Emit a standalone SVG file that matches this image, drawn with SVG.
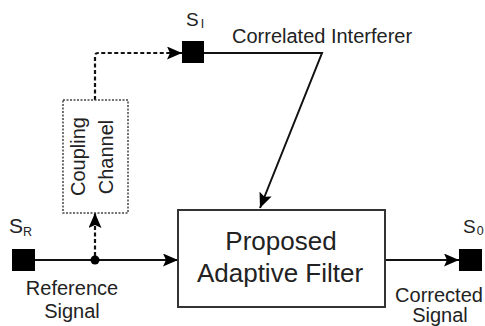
<svg xmlns="http://www.w3.org/2000/svg" width="485" height="326" viewBox="0 0 485 326">
  <style>
    text { font-family: "Liberation Sans", Arial, sans-serif; fill: #222; }
    .lbl { font-size: 20px; }
    .big { font-size: 26px; }
    .sym { font-size: 19px; }
    .sub { font-size: 12.5px; }
    .term { fill: #000; }
    .wire { fill: none; stroke: #111; stroke-width: 2; }
    .dash { fill: none; stroke: #111; stroke-width: 2.2; stroke-dasharray: 4 2.5; }
  </style>
  <defs>
    <marker id="arrow" markerUnits="userSpaceOnUse" markerWidth="15" markerHeight="13" refX="15" refY="6.5" orient="auto">
      <path d="M0,0 L15,6.5 L0,13 L3,6.5 z" fill="#000"/>
    </marker>
  </defs>

  <rect width="485" height="326" fill="#fff"/>

  <!-- connectors -->
  <g id="connectors">
    <path class="wire" d="M35,260 H178" marker-end="url(#arrow)"/>
    <path class="dash" d="M95,256 V213" marker-end="url(#arrow)"/>
    <path class="dash" d="M95,100 V56 Q95,53 98,53 H182" marker-end="url(#arrow)"/>
    <path class="wire" d="M204,53 H322 L260,208" marker-end="url(#arrow)"/>
    <path class="wire" d="M385,260 H459" marker-end="url(#arrow)"/>
    <circle cx="95" cy="260" r="4.5" fill="#000"/>
    <text class="lbl" x="232" y="43">Correlated Interferer</text>
  </g>

  <!-- reference source -->
  <g id="node-sr">
    <rect class="term" x="12" y="249" width="23" height="22"/>
    <text class="sym" x="9" y="233" style="font-size:21px">S<tspan class="sub" dy="3">R</tspan></text>
    <text class="lbl" x="72" y="295" text-anchor="middle">Reference</text>
    <text class="lbl" x="72" y="318" text-anchor="middle">Signal</text>
  </g>

  <!-- interferer source -->
  <g id="node-si">
    <rect class="term" x="182" y="41" width="22" height="22"/>
    <text class="sym" x="186" y="26">S<tspan class="sub" dx="2" dy="2">I</tspan></text>
  </g>

  <!-- coupling channel -->
  <g id="node-coupling">
    <rect x="63" y="100" width="65" height="113" fill="none" stroke="#444" stroke-width="1.5" stroke-dasharray="2 1.5"/>
    <text class="lbl" transform="translate(84.5,156.5) rotate(-90)" text-anchor="middle">Coupling</text>
    <text class="lbl" transform="translate(113,157) rotate(-90)" text-anchor="middle">Channel</text>
  </g>

  <!-- adaptive filter -->
  <g id="node-filter">
    <rect x="178" y="210" width="207" height="97" fill="#fff" stroke="#333" stroke-width="2"/>
    <text class="big" x="281" y="250" text-anchor="middle">Proposed</text>
    <text class="big" x="280" y="282" text-anchor="middle">Adaptive Filter</text>
  </g>

  <!-- corrected output -->
  <g id="node-so">
    <rect class="term" x="459" y="249" width="23" height="22"/>
    <text class="sym" x="463" y="233">S<tspan class="sub" dx="1" dy="2">0</tspan></text>
    <text class="lbl" x="439" y="302" text-anchor="middle">Corrected</text>
    <text class="lbl" x="440" y="322" text-anchor="middle">Signal</text>
  </g>
</svg>
